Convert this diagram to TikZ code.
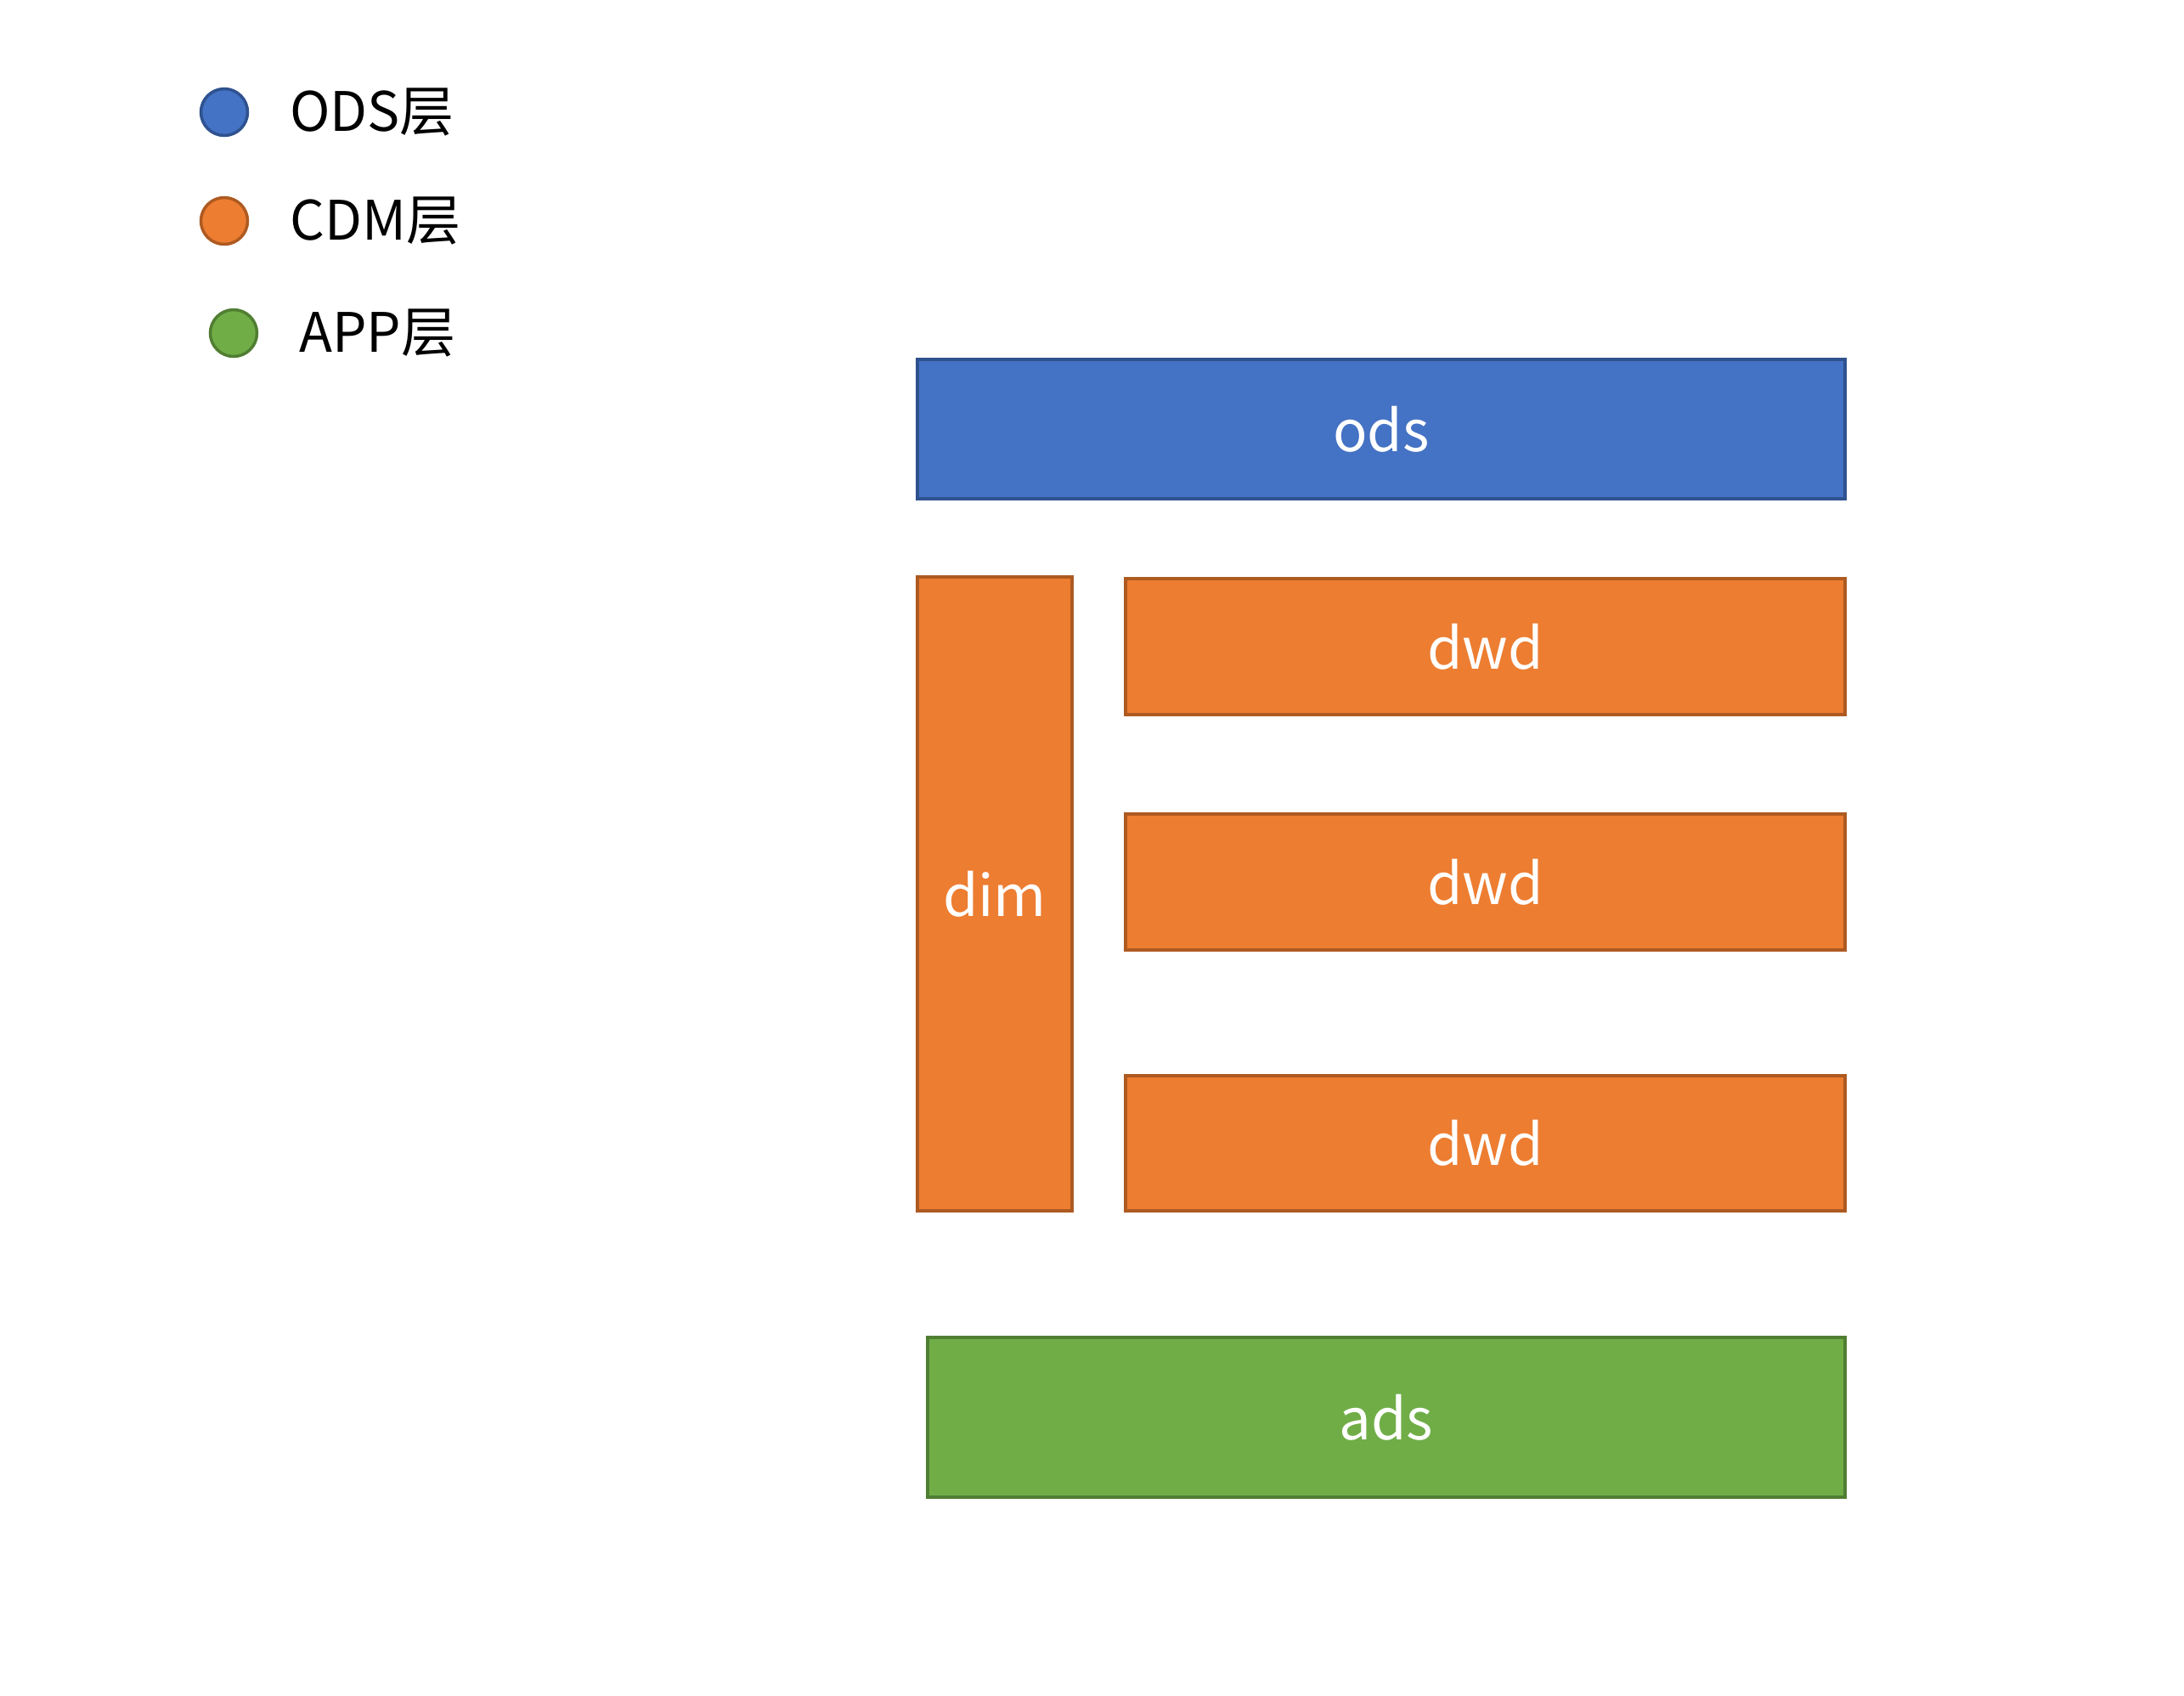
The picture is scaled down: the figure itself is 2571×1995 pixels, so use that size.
\documentclass[tikz,border=0pt]{standalone}
\usepackage{fontspec}
\setmainfont{Noto Sans CJK SC}
\definecolor{bfill}{HTML}{4472C4}
\definecolor{bline}{HTML}{2F528F}
\definecolor{ofill}{HTML}{ED7D31}
\definecolor{oline}{HTML}{AE5A21}
\definecolor{gfill}{HTML}{70AD47}
\definecolor{gline}{HTML}{507E32}
\tikzset{
  layerbox/.style={draw, line width=4pt, rectangle, inner sep=0pt, text=white,
    font=\fontsize{67}{76}\selectfont},
  bluebox/.style={layerbox, fill=bfill, draw=bline},
  orangebox/.style={layerbox, fill=ofill, draw=oline},
  greenbox/.style={layerbox, fill=gfill, draw=gline},
  dot/.style={circle, line width=3.5pt, minimum size=55pt, inner sep=0pt},
  legendtext/.style={anchor=west, inner sep=0pt, font=\fontsize{64}{72}\selectfont}
}
\begin{document}
\begin{tikzpicture}[x=1pt,y=-1pt]
\useasboundingbox (0,0) rectangle (2571,1995);
% legend
\node[dot, fill=bfill, draw=bline] (c1) at (264,132) {};
\node[dot, fill=ofill, draw=oline] (c2) at (264,260) {};
\node[dot, fill=gfill, draw=gline] (c3) at (275,392) {};
\node[legendtext] (t1) at (341,132) {ODS层};
\node[legendtext] (t2) at (341,260) {CDM层};
\node[legendtext] (t3) at (352,392) {APP层};
% layers
\node[bluebox, minimum width=1092pt, minimum height=164pt] (ods) at (1626,505) {ods};
\node[orangebox, minimum width=182pt, minimum height=746pt] (dim) at (1171,1052) {dim};
\node[orangebox, minimum width=847pt, minimum height=160pt] (dwd1) at (1748.5,761) {dwd};
\node[orangebox, minimum width=847pt, minimum height=160pt] (dwd2) at (1748.5,1038) {dwd};
\node[orangebox, minimum width=847pt, minimum height=159pt] (dwd3) at (1748.5,1345.5) {dwd};
\node[greenbox, minimum width=1080pt, minimum height=188pt] (ads) at (1632,1668) {ads};
\end{tikzpicture}
\end{document}
